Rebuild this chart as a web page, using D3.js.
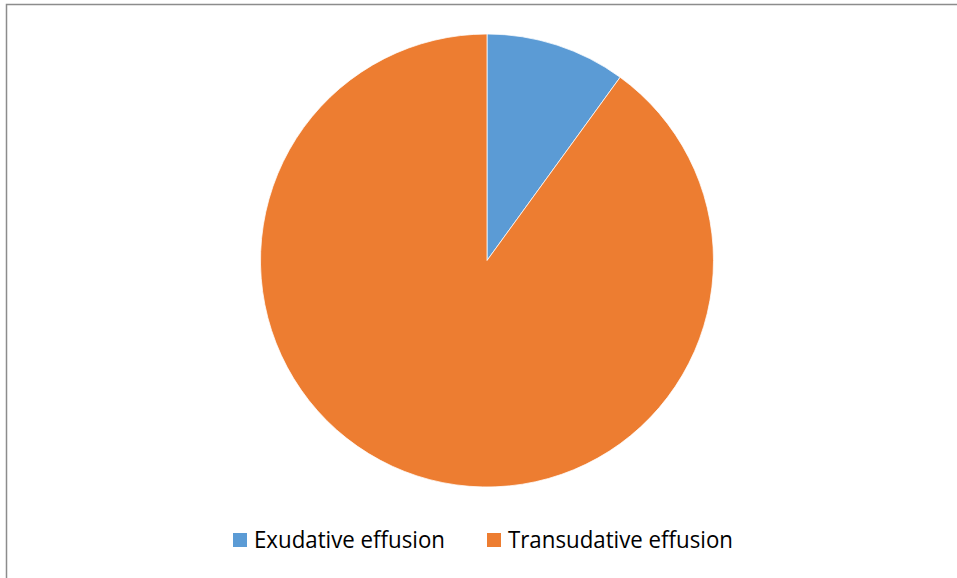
<!DOCTYPE html>
<html>
<head>
<meta charset="utf-8">
<script src="https://cdn.jsdelivr.net/npm/d3@7"></script>
<style>
  html, body { margin: 0; padding: 0; background: #fff; overflow: hidden; }
</style>
</head>
<body>
<script>
var w = 957,
    h = 578;

// data
var categories = ["Exudative effusion", "Transudative effusion"];
var values = [10, 90];
var colors = ["#5B9BD5", "#ED7D31"];

var data = categories.map(function(c, i) { return {name: c, value: values[i], color: colors[i]}; });

var svg = d3.select("body").append("svg")
    .attr("width", w)
    .attr("height", h);

svg.append("rect")
    .attr("width", w)
    .attr("height", h)
    .attr("fill", "#fff");

// chart frame, only top and left edges show in the crop
svg.append("rect")
    .attr("x", 6.5)
    .attr("y", 4.5)
    .attr("width", w + 20)
    .attr("height", h + 20)
    .attr("fill", "none")
    .attr("stroke", "#8c8c8c")
    .attr("stroke-width", 1.5);

var cx = 487, cy = 260.5, r = 226.5;

var pie = d3.pie()
    .sort(null)
    .value(function(d) { return d.value; });

var arc = d3.arc()
    .innerRadius(0)
    .outerRadius(r);

var g = svg.append("g")
    .attr("transform", "translate(" + cx + "," + cy + ")");

g.selectAll("path")
    .data(pie(data))
    .enter().append("path")
    .attr("d", arc)
    .attr("fill", function(d) { return d.data.color; })
    .attr("stroke", "#fff")
    .attr("stroke-width", 0.75);

// legend
var legendX = [233, 487],
    legendWidths = [191, 225];

var legend = svg.selectAll("g.legend")
    .data(data)
    .enter().append("g")
    .attr("class", "legend")
    .attr("transform", function(d, i) { return "translate(" + legendX[i] + ",533)"; });

legend.append("rect")
    .attr("width", 14)
    .attr("height", 14)
    .attr("fill", function(d) { return d.color; });

legend.append("text")
    .attr("x", 21)
    .attr("y", 15)
    .attr("font-family", "'Open Sans', 'Liberation Sans', sans-serif")
    .attr("font-size", 24)
    .attr("fill", "#000")
    .attr("textLength", function(d, i) { return legendWidths[i]; })
    .attr("lengthAdjust", "spacingAndGlyphs")
    .text(function(d) { return d.name; });
</script>
</body>
</html>
